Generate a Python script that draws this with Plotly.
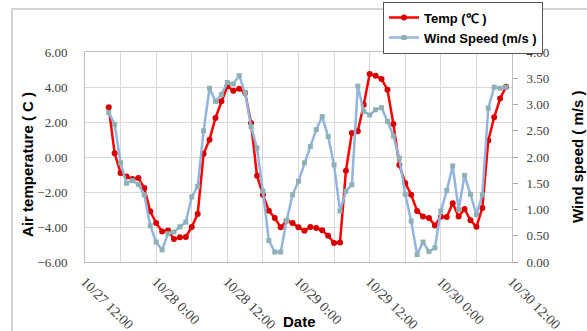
import pandas as pd
import plotly.graph_objects as go

# Hourly observations starting 10/27 16:00
start_time = "2012-10-27 16:00"

temp_c = [2.84, 0.21, -0.91, -1.12, -1.25, -1.2, -1.77, -3.1, -3.77, -4.25,
          -4.2, -4.69, -4.59, -4.57, -4.0, -3.26, 0.19, 0.99, 2.23, 3.18,
          4.04, 3.79, 3.9, 3.66, 1.94, -1.07, -2.15, -3.07, -3.49, -4.02,
          -3.64, -3.77, -4.02, -4.21, -4.0, -4.06, -4.19, -4.5, -4.91, -4.88,
          -0.78, 1.37, 1.47, 2.99, 4.74, 4.65, 4.46, 3.85, 1.89, -0.46,
          -1.48, -2.16, -3.08, -3.4, -3.48, -3.91, -3.42, -3.43, -2.64, -3.4,
          -2.97, -3.62, -3.99, -2.92, 0.95, 2.27, 3.34, 4.02]

wind_ms = [2.85, 2.62, 1.89, 1.5, 1.55, 1.48, 1.28, 0.69, 0.38, 0.23,
           0.54, 0.57, 0.67, 0.76, 1.24, 1.44, 2.5, 3.31, 3.06, 3.19,
           3.42, 3.39, 3.55, 3.22, 2.58, 2.17, 1.35, 0.41, 0.19, 0.19,
           0.79, 1.28, 1.54, 1.89, 2.2, 2.52, 2.77, 2.39, 1.85, 0.97,
           1.35, 1.47, 3.35, 2.87, 2.8, 2.9, 2.94, 2.68, 2.4, 1.98,
           1.29, 0.78, 0.14, 0.38, 0.2, 0.27, 0.97, 1.36, 1.83, 1.0,
           1.65, 1.29, 0.9, 1.28, 2.93, 3.33, 3.31, 3.33]

times = pd.date_range(start_time, periods=len(temp_c), freq="h")

x_range = ["2012-10-27 12:00", "2012-10-30 12:00"]
temp_range = [-6, 6]
wind_range = [0, 4]

grid = "#d9d9d9"
tickfont = dict(family="Liberation Serif", size=13, color="#404040")
xtickfont = dict(family="Liberation Serif", size=14, color="#404040")
titlefont = dict(family="Liberation Sans", size=15, color="black")

fig = go.Figure()
fig.add_trace(go.Scatter(
    x=times, y=temp_c, name="Temp (℃ )", mode="lines+markers",
    line=dict(color="#ff0000", width=2.5),
    marker=dict(symbol="circle", size=6, color="#d60000"),
))
fig.add_trace(go.Scatter(
    x=times, y=wind_ms, name="Wind Speed (m/s )", mode="lines+markers",
    line=dict(color="#92b4de", width=2.5),
    marker=dict(symbol="square", size=5, color="#8fb1b4"),
    yaxis="y2",
))

fig.update_layout(
    width=587, height=331,
    margin=dict(l=85, r=75, t=52, b=69, autoexpand=False),
    paper_bgcolor="white", plot_bgcolor="white",
    showlegend=True,
    legend=dict(
        x=0.698, y=1.240, xanchor="left", yanchor="top",
        bgcolor="white", bordercolor="#555555", borderwidth=1,
        font=dict(family="Liberation Sans", size=13, color="black", weight="bold"),
        tracegroupgap=0,
    ),
    xaxis=dict(
        type="date", range=x_range, automargin=False,
        dtick=12 * 3600 * 1000, tickformat="%-m/%-d %-H:%M",
        tickangle=45, tickfont=xtickfont,
        showgrid=True, gridcolor=grid, gridwidth=1,
        minor=dict(dtick=6 * 3600 * 1000, showgrid=True, gridcolor=grid, gridwidth=1),
        showline=True, linecolor="#bfbfbf", mirror=True,
        ticks="", ticklabelstandoff=5,
        zeroline=False,
    ),
    yaxis=dict(
        range=temp_range, dtick=2, tickformat=".2f", automargin=False,
        tickfont=tickfont, showgrid=True, gridcolor=grid, gridwidth=1,
        showline=True, linecolor="#bfbfbf", zeroline=False,
        ticks="", ticklabelstandoff=14,
    ),
    yaxis2=dict(
        range=wind_range, dtick=0.5, tickformat=".2f", overlaying="y", side="right",
        tickfont=tickfont, showgrid=False, zeroline=False, automargin=False,
        showline=True, linecolor="#bfbfbf",
        ticks="outside", ticklen=5, tickcolor="#a6a6a6", ticklabelstandoff=6,
    ),
    annotations=[
        dict(text="<b>Air temperature ( C )</b>", xref="paper", yref="paper",
             x=-0.1335, y=0.467, xanchor="center", yanchor="middle",
             textangle=-90, showarrow=False, font=titlefont),
        dict(text="<b>Wind speed ( m/s )</b>", xref="paper", yref="paper",
             x=1.152, y=0.50, xanchor="center", yanchor="middle",
             textangle=-90, showarrow=False, font=titlefont),
        dict(text="<b>Date</b>", xref="paper", yref="paper",
             x=0.5035, y=-0.281, xanchor="center", yanchor="middle",
             showarrow=False, font=titlefont),
    ],
    shapes=[
        dict(type="rect", xref="paper", yref="paper",
             x0=-0.171, x1=1.5, y0=-1.0, y1=1.205,
             line=dict(color="#d4d4d4", width=2), layer="below"),
    ],
)

fig.write_html("out.html", config={"displayModeBar": False},
               post_script="document.body.style.margin='0';document.body.style.padding='0';")
